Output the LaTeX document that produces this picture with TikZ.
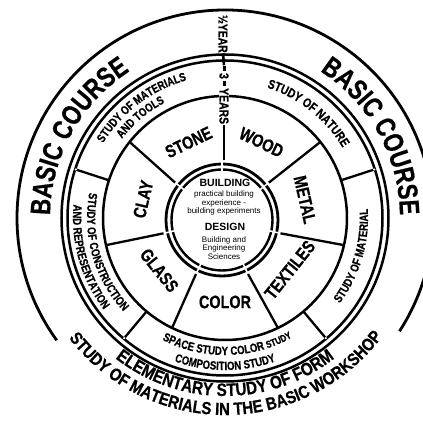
\documentclass[tikz,border=0pt]{standalone}
\usepackage{fontspec}
\setmainfont{Liberation Sans}
\newfontfamily\cond[FakeStretch=0.8,FakeBold=0.6]{Liberation Sans}
\newfontfamily\condw[FakeStretch=0.85,FakeBold=0.6]{Liberation Sans}
\usetikzlibrary{decorations.text,calc}
\newcommand\fA{\cond\bfseries\fontsize{28}{28}\selectfont}
\newcommand\fB{\cond\bfseries\fontsize{12}{12}\selectfont}
\newcommand\fBs{\cond\bfseries\fontsize{10}{10}\selectfont}
\newcommand\fBb{\cond\bfseries\fontsize{13}{13}\selectfont}
\newcommand\fC{\condw\bfseries\fontsize{18}{18}\selectfont}
\newcommand\fCs{\condw\bfseries\fontsize{17.5}{17.5}\selectfont}
\newcommand\cwtext[4]{\path[decorate,decoration={text along path,text align=center,text={|#3|#4}}] ({#1+70}:#2) arc[start angle={#1+70},end angle={#1-70},radius=#2];}
\newcommand\ccwtext[4]{\path[decorate,decoration={text along path,text align=center,text={|#3|#4}}] ({#1-70}:#2) arc[start angle={#1-70},end angle={#1+70},radius=#2];}
\begin{document}
\begin{tikzpicture}[x=1pt,y=1pt,
  ring/.style={line width=2.5pt},
  divider/.style={line width=2.3pt},
  matlabel/.style={font=\cond\bfseries\fontsize{18}{18}\selectfont, inner sep=0pt},
  yearlabel/.style={font=\cond\bfseries\fontsize{13}{13}\selectfont, inner sep=0.5pt, rotate=-90},
  bigc/.style={font=\bfseries\fontsize{10.5}{12}\selectfont, inner sep=0pt},
  smallc/.style={font=\fontsize{8}{8.5}\selectfont, align=center, inner sep=0pt}]
\fill[white] (-225,-204) rectangle (198,218);
\useasboundingbox (-225,-204) rectangle (198,218);
\coordinate (C) at (0,0);
\coordinate (IC) at (-3,-2);
% outer circle (open at the bottom for the text)
\draw[line width=2.8pt] (-33:208) arc[start angle=-33,end angle=216,radius=208];
% double ring
\draw[ring] (C) circle[radius=163.5];
\draw[ring] (C) circle[radius=157.5];
% ring around the materials
\draw[ring] (C) circle[radius=122];
% dividers of the study band
\foreach \a in {162,18,-50,230} {
  \draw[divider] (\a:122) -- (\a:157.5);
  \fill[white] (\a:156.8) circle[radius=1.2];
}
% inner circle
\draw[line width=2.8pt] (IC) circle[radius=56];
\draw[line width=2.4pt] (IC) circle[radius=50.5];
\foreach \k in {0,...,6} \draw[white,line width=1.6pt] ($(IC)+({90+\k*360/7}:47)$) -- ($(IC)+({90+\k*360/7}:59.5)$);
% spokes
\foreach \k in {1,...,6} \draw[divider] ({90+\k*360/7}:122) -- ($(IC)+({90+\k*360/7}:60)$);
% year column
\node[yearlabel] (half) at (-2,184) {½YEAR};
\node[yearlabel, fill=white] (three) at (-1,123) {\rule[3.4pt]{5pt}{2.6pt}\,3\,\rule[3.4pt]{5pt}{2.6pt}\,YEARS};
\coordinate (spokeend) at ($(IC)+(90:60)$);
\draw[line width=2.6pt] (half.east) -- (three.west);
\draw[divider] (three.east) -- (three.east |- spokeend);
% materials
\node[matlabel, rotate=25.7] (stone) at (115.7:84) {STONE};
\node[matlabel, rotate=-25.7] (wood) at (64.3:84) {WOOD};
\node[matlabel, rotate=-77.1] (metal) at (12.9:82) {METAL};
\node[matlabel, rotate=51.4] (textiles) at (-38.6:83) {TEXTILES};
\node[matlabel] (color) at (-90:84) {COLOR};
\node[matlabel, rotate=-51.4] (glass) at (218.6:84) {GLASS};
\node[matlabel, rotate=77.1] (clay) at (167.1:84) {CLAY};
% centre
\node[bigc] (building) at (0,35) {BUILDING};
\node[smallc] (bexp) at (-1,15) {practical building\\experience -\\building experiments};
\node[bigc] (design) at (0,-9) {DESIGN};
\node[smallc] (bsci) at (-1,-30) {Building and\\Engineering\\Sciences};
% curved texts
\cwtext{151}{175}{\fA}{BASIC COURSE}
\cwtext{29}{175}{\fA}{BASIC COURSE}
\cwtext{127}{143}{\fB}{STUDY OF MATERIALS}
\cwtext{130}{130}{\fB}{AND TOOLS}
\cwtext{51.5}{137}{\fBb}{STUDY OF NATURE}
\ccwtext{-16.5}{143}{\fB}{STUDY OF MATERIAL}
\ccwtext{-89}{137}{\fB}{SPACE STUDY COLOR |\fBs|STUDY}
\ccwtext{-90}{152}{\fB}{COMPOSITION STUDY}
\ccwtext{196}{138}{\fB}{STUDY OF CONSTRUCTION}
\ccwtext{196}{152}{\fB}{AND REPRESENTATION}
\ccwtext{-90}{178}{\fC}{ELEMENTARY STUDY OF FORM}
\ccwtext{-89.7}{197}{\fCs}{STUDY OF MATERIALS IN THE BASIC WORKSHOP}
\end{tikzpicture}
\end{document}
